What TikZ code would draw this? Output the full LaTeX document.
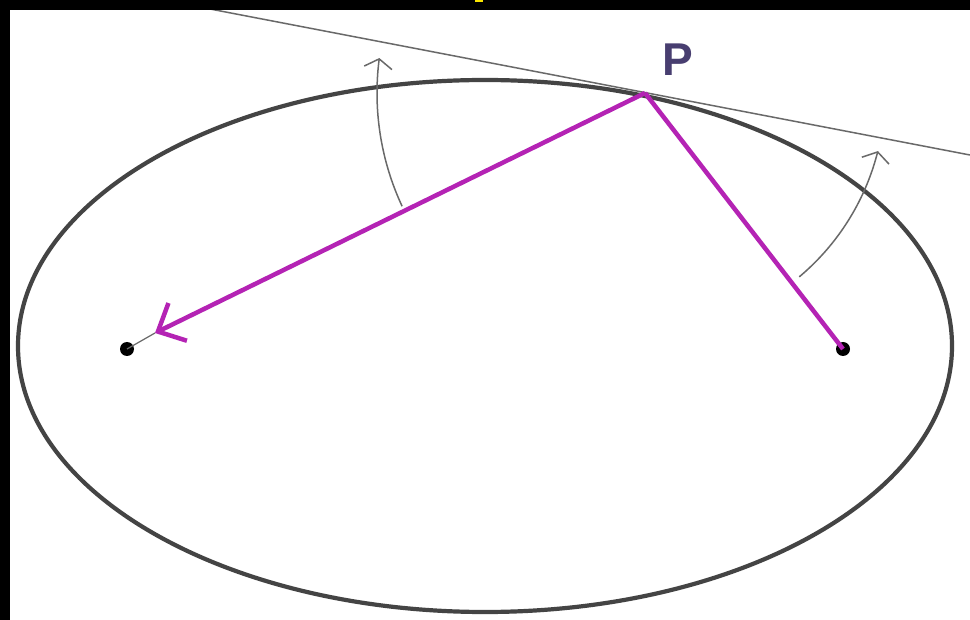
\documentclass[tikz,border=0pt]{standalone}
\usepackage{fontspec}
\setmainfont{Liberation Sans}
\usetikzlibrary{arrows.meta}
\definecolor{magline}{RGB}{180,35,180}
\definecolor{ellcol}{RGB}{68,68,68}
\definecolor{thingray}{RGB}{105,105,105}
\definecolor{pcol}{RGB}{72,62,112}
\definecolor{topyellow}{RGB}{250,230,0}
\begin{document}
\begin{tikzpicture}[x=1pt,y=-1pt,
  ellipseline/.style={draw=ellcol, line width=4.2pt},
  thinline/.style={draw=thingray, line width=1.5pt},
  anglearrow/.style={thinline, -{Straight Barb[length=9pt,width=28pt]}},
  focusdot/.style={circle, fill=black, inner sep=0pt, minimum size=14pt},
  radius/.style={draw=magline, line width=4.5pt},
  labelP/.style={text=pcol, font=\bfseries\fontsize{46}{46}\selectfont, inner sep=0pt}
]
\useasboundingbox (0,0) rectangle (970,620);
\fill[white] (0,0) rectangle (970,620);

% ellipse
\draw[ellipseline] (485,346) ellipse [x radius=467, y radius=266];

% tangent line
\coordinate (TL) at (210,9);
\coordinate (TR) at (970,155);
\draw[thinline] (TL) -- (TR);

% points
\coordinate (P) at (645,93);
\node[focusdot] (F1) at (127,349) {};
\node[focusdot] (F2) at (843,349) {};
\coordinate (T) at (155,333);

% thin line from arrow tip to left focus
\draw[thinline, line width=1.2pt] (T) -- (F1.center);

% angle arcs
\draw[anglearrow] plot[domain=155:187.5, samples=40, smooth] ({645+268*cos(\x)},{93+268*sin(\x)});
\draw[anglearrow] plot[domain=50:14, samples=40, smooth] ({645+240*cos(\x)},{93+240*sin(\x)});

% magenta radii
\draw[radius] (P) -- (F2.center);
\draw[radius, -{Straight Barb[length=22pt,width=42pt]}] (P) -- (T);

% label
\node[labelP] (lblP) at (678,60) {P};

% black frame strips
\fill[black] (0,0) rectangle (970,10);
\fill[black] (0,0) rectangle (10,620);
\fill[topyellow] (475,0) rectangle (483,2.5);
\end{tikzpicture}
\end{document}
